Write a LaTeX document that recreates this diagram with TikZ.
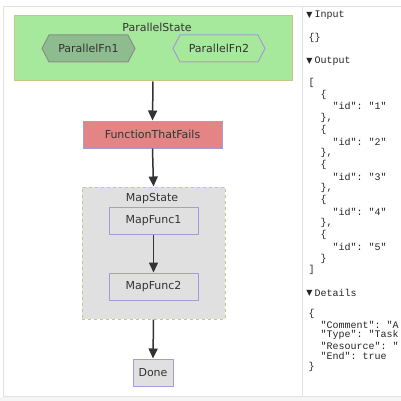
\documentclass[tikz,border=0pt]{standalone}
\usepackage{fontspec}
\setmainfont{DejaVu Sans}
\setmonofont{Liberation Mono}
\newfontfamily\markfont{DejaVu Sans}
\usetikzlibrary{positioning}
\usetikzlibrary{shapes.symbols}
\usetikzlibrary{arrows.meta}
\usepackage{xcolor}

\definecolor{pargreen}{HTML}{A6E99C}
\definecolor{fngreen}{HTML}{8FBC8F}
\definecolor{failred}{HTML}{E48484}
\definecolor{mapgray}{HTML}{E0E0E0}
\definecolor{olive}{HTML}{C6C886}
\definecolor{lilac}{HTML}{A898DC}
\definecolor{txt}{HTML}{333333}
\definecolor{frame}{HTML}{E2E2E2}

\tikzset{
  cluster/.style={draw=olive, line width=1pt, minimum width=#1, inner sep=0pt},
  stepbox/.style={draw=lilac, fill=mapgray, line width=1pt, minimum height=27pt,
    inner sep=0pt, text=txt, font=\fontsize{11}{13}\selectfont},
  hexbox/.style={shape=signal, signal to=east and west, signal pointer angle=125,
    line width=1pt, minimum height=27pt, inner sep=0pt, text=txt,
    font=\fontsize{11}{13}\selectfont},
  title/.style={text=txt, inner sep=0pt, font=\fontsize{11}{13}\selectfont},
  flow/.style={-{Triangle[length=10pt,width=9pt]}, line width=1.5pt, draw=txt},
  json/.style={anchor=west, inner sep=0pt, text=black!85, font=\ttfamily\fontsize{10}{10}\selectfont},
  tri/.style={inner sep=0pt, text=black!85, font=\markfont\fontsize{8}{8}\selectfont}
}

\begin{document}
\begin{tikzpicture}[x=1pt,y=-1pt]

\useasboundingbox (0,0) rectangle (401,401);

% page frame
\fill[black!4] (0,397) rectangle (401,401);
\draw[frame, line width=1pt] (401,7)--(3,7)--(3,396)--(401,396);
\draw[frame, line width=1pt] (302,7)--(302,396);

% parallel state
\node (par) at (153,48.5) [cluster=278pt, fill=pargreen, minimum height=65pt] {};
\node (partitle) at (157,27) [title] {ParallelState};
\node (fn1) at (88.5,48.5) [hexbox, draw=black!45, fill=fngreen, minimum width=93pt] {ParallelFn1};
\node (fn2) at (219,48.5) [hexbox, draw=lilac, fill=pargreen, minimum width=92pt] {ParallelFn2};

\node (fail) at (152.5,134.5) [stepbox, fill=failred, minimum width=139pt] {FunctionThatFails};

% map state
\node (map) at (153.5,253) [cluster=143pt, dashed, fill=mapgray, minimum height=132pt] {};
\node (maptitle) at (152,199) [title] {MapState};
\node (mf1) at (153.5,220.5) [stepbox, minimum width=89pt] {MapFunc1};
\node (mf2) at (153.5,286.5) [stepbox, minimum width=89pt] {MapFunc2};

\node (done) at (153,372.5) [stepbox, minimum width=40pt] {Done};

\draw[flow] (par.south) -- (fail.north);
\draw[flow] (fail.south) -- (map.north);
\draw[flow] (mf1.south) -- (mf2.north);
\draw[flow] (map.south) -- (done.north);

% execution details
\node (m1) at (309.5,15.5) [tri] {▼};
\node (h1) at (314.5,15.5) [json] {Input};
\node (in) at (308.5,38) [json] {\{\}};
\node (m2) at (309.5,61) [tri] {▼};
\node (h2) at (314.5,61) [json] {Output};

\node (o0) at (308.5,83) [json] {[};
\node (o1) at (320.5,94.7) [json] {\{};
\node (o2) at (332.5,106.4) [json] {"id": "1"};
\node (o3) at (320.5,118.1) [json] {\},};
\node (o4) at (320.5,129.8) [json] {\{};
\node (o5) at (332.5,141.5) [json] {"id": "2"};
\node (o6) at (320.5,153.2) [json] {\},};
\node (o7) at (320.5,164.9) [json] {\{};
\node (o8) at (332.5,176.6) [json] {"id": "3"};
\node (o9) at (320.5,188.3) [json] {\},};
\node (o10) at (320.5,200) [json] {\{};
\node (o11) at (332.5,211.7) [json] {"id": "4"};
\node (o12) at (320.5,223.4) [json] {\},};
\node (o13) at (320.5,235.1) [json] {\{};
\node (o14) at (332.5,246.8) [json] {"id": "5"};
\node (o15) at (320.5,258.5) [json] {\}};
\node (o16) at (308.5,270.2) [json] {]};

\node (m3) at (309.5,293) [tri] {▼};
\node (h3) at (314.5,293) [json] {Details};

\node (d0) at (308.5,314) [json] {\{};
\node (d1) at (320.5,324.5) [json] {"Comment": "A};
\node (d2) at (320.5,335) [json] {"Type": "Task};
\node (d3) at (320.5,345.5) [json] {"Resource": "};
\node (d4) at (320.5,356) [json] {"End": true};
\node (d5) at (308.5,366.5) [json] {\}};

\end{tikzpicture}
\end{document}
